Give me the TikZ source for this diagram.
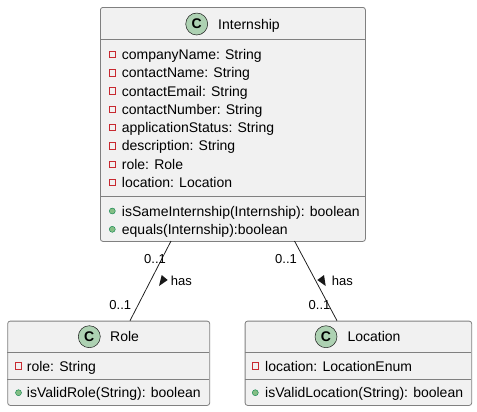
\documentclass[tikz,border=0pt]{standalone}
\usepackage{fontspec}
\setmainfont{Liberation Sans}
\definecolor{boxfill}{HTML}{F1F1F1}
\definecolor{boxline}{HTML}{181818}
\definecolor{cfill}{HTML}{ADD1B2}
\definecolor{privred}{HTML}{C82930}
\definecolor{pubfill}{HTML}{84BE84}
\definecolor{publine}{HTML}{038048}

\begin{document}
\begin{tikzpicture}[x=1bp, y=-1bp,
every node/.style={inner sep=0pt, font=\fontsize{14bp}{16bp}\selectfont},
classbox/.style={draw=boxline!55, fill=boxfill, line width=0.8bp, rounded corners=2.5bp, anchor=north west},
sepline/.style={draw=boxline!55, line width=0.8bp},
cicon/.style={circle, draw=boxline, fill=cfill, line width=0.5pt, minimum size=22bp,
    font=\fontsize{14bp}{16bp}\selectfont\bfseries},
priv/.style={draw=privred, line width=0.8bp, minimum size=6.5bp},
pub/.style={circle, draw=publine, fill=pubfill, line width=0.4pt, minimum size=6bp},
member/.style={anchor=base west},
mult/.style={anchor=base, font=\fontsize{13bp}{15bp}\selectfont},
link/.style={draw=boxline, line width=0.75pt}
]
\useasboundingbox (0,0) rectangle (477,411);

% Internship
\node[classbox, minimum width=265bp, minimum height=234bp] (intern) at (100,7) {};
\draw[sepline] (100,39) -- (365,39) (100,196) -- (365,196);
\node[cicon] (intern-c) at (196.7,24) {C};
\node[member] (intern-name) at (218,29) {Internship};
\foreach \t [count=\i from 0] in {companyName: String, contactName: String,
    contactEmail: String, contactNumber: String, applicationStatus: String,
    description: String, role: Role, location: Location}{
  \node[priv] (intern-p\i) at (112.3,{54.4+18.3*\i}) {};
  \node[member] (intern-a\i) at (121.7,{59.4+18.3*\i}) {\t};
}
\foreach \t [count=\i from 0] in {isSameInternship(Internship): boolean,
    equals(Internship):boolean}{
  \node[pub] (intern-q\i) at (112.3,{211+18.3*\i}) {};
  \node[member] (intern-m\i) at (121.7,{216+18.3*\i}) {\t};
}

% Role
\node[classbox, minimum width=202bp, minimum height=84.3bp] (role) at (7.3,320.7) {};
\draw[sepline] (7.3,352) -- (209.3,352) (7.3,379) -- (209.3,379);
\node[cicon] (role-c) at (89.3,336.7) {C};
\node[member] (role-name) at (110,341.7) {Role};
\node[priv] (role-p0) at (18.5,366) {};
\node[member] (role-a0) at (26.7,371) {role: String};
\node[pub] (role-q0) at (18.5,392.7) {};
\node[member] (role-m0) at (26.7,397.7) {isValidRole(String): boolean};

% Location
\node[classbox, minimum width=226.6bp, minimum height=84.3bp] (loc) at (244.7,320.7) {};
\draw[sepline] (244.7,352) -- (471.3,352) (244.7,379) -- (471.3,379);
\node[cicon] (loc-c) at (326,336.7) {C};
\node[member] (loc-name) at (347.3,341.7) {Location};
\node[priv] (loc-p0) at (255.3,366) {};
\node[member] (loc-a0) at (265,371) {location: LocationEnum};
\node[pub] (loc-q0) at (255.3,392.7) {};
\node[member] (loc-m0) at (265,397.7) {isValidLocation(String): boolean};

% associations
\coordinate (intern-l) at (171,241);
\coordinate (intern-r) at (294.5,241);
\coordinate (role-t) at (130,320.7);
\coordinate (loc-t) at (337,320.7);
\draw[link] (intern-l) -- (role-t);
\draw[link] (intern-r) -- (loc-t);

\node[mult] (m1) at (155,263.5) {0..1};
\node[mult] (m2) at (120.3,309) {0..1};
\node[mult] (m3) at (286,263.5) {0..1};
\node[mult] (m4) at (319.5,309) {0..1};
\node[mult, anchor=base west] (has-l) at (170.7,285.3) {has};
\node[mult, anchor=base west] (has-r) at (331.7,285.3) {has};
\fill[boxline] (161.7,275) -- (167.7,280) -- (159,286) -- cycle;
\fill[boxline] (324,275) -- (317.3,280) -- (325.7,286) -- cycle;
\end{tikzpicture}
\end{document}
